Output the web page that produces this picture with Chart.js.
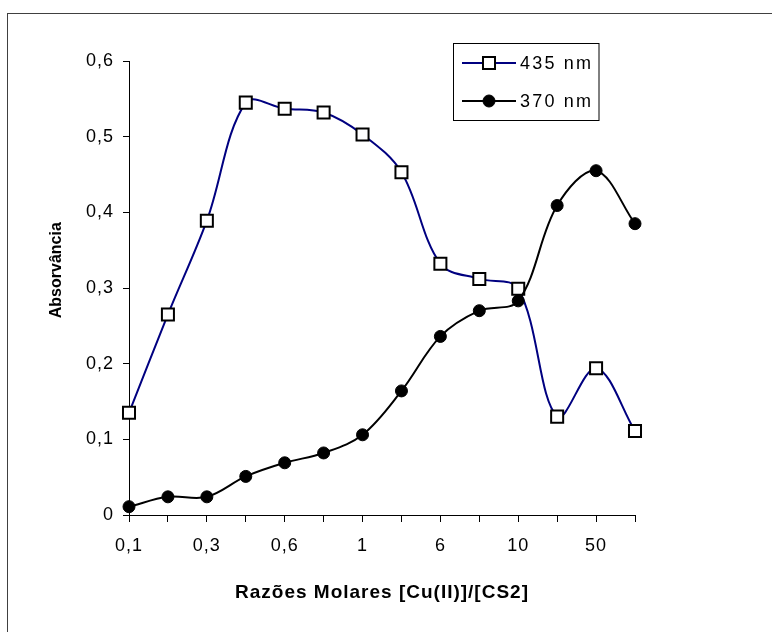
<!DOCTYPE html>
<html>
<head>
<meta charset="utf-8">
<script src="https://cdn.jsdelivr.net/npm/chart.js@4.4.1/dist/chart.umd.min.js"></script>
<style>
  body { margin: 0; background: #fff; }
  #wrap { width: 772px; height: 632px; }
</style>
</head>
<body>
<div id="wrap"><canvas id="chartGraph" width="772" height="632"></canvas></div>
<script>
// razões molares (só metade dos rótulos aparece no eixo)
const ratioLabels = ['0,1', '0,2', '0,3', '0,4', '0,6', '0,8', '1', '3', '6', '8', '10', '30', '50', '100'];
const abs435 = [0.135, 0.265, 0.389, 0.545, 0.537, 0.532, 0.503, 0.453, 0.332, 0.312, 0.299, 0.130, 0.194, 0.111];
const abs370 = [0.011, 0.024, 0.024, 0.051, 0.069, 0.082, 0.106, 0.164, 0.236, 0.270, 0.283, 0.409, 0.455, 0.385];
const seriesNames = ['435 nm', '370 nm'];
const yTicks = [0, 0.1, 0.2, 0.3, 0.4, 0.5, 0.6];

const ctx = document.getElementById('chartGraph');
const FONT = "'Liberation Sans', Arial, sans-serif";

// texto um pouco mais largo, como no original
const spacingPlugin = {
  id: 'spacing',
  beforeDraw(chart) {
    chart.ctx.letterSpacing = '1px';
  }
};

// moldura e legenda com caixa
const frameLegend = {
  id: 'frameLegend',
  afterDraw(chart) {
    const c = chart.ctx;
    c.save();
    c.letterSpacing = '0px';
    c.strokeStyle = '#404040';
    c.lineWidth = 1;
    c.strokeRect(7.5, 13.5, 900, 800);

    c.strokeStyle = '#000';
    c.strokeRect(453.5, 43.5, 145.5, 77);

    const rows = [63, 101];
    chart.data.datasets.forEach((ds, i) => {
      const y = rows[i];
      c.strokeStyle = ds.borderColor;
      c.lineWidth = ds.borderWidth;
      c.beginPath();
      c.moveTo(462, y);
      c.lineTo(516, y);
      c.stroke();
      c.fillStyle = ds.pointBackgroundColor;
      c.strokeStyle = ds.pointBorderColor;
      c.lineWidth = ds.pointBorderWidth;
      Chart.helpers.drawPoint(c, {
        pointStyle: ds.pointStyle,
        radius: ds.pointRadius,
        rotation: 0,
        borderWidth: ds.pointBorderWidth
      }, 489, y);
      c.letterSpacing = '2.2px';
      c.fillStyle = '#000';
      c.font = '18px ' + FONT;
      c.textAlign = 'left';
      c.textBaseline = 'middle';
      c.fillText(ds.label, 520, y + 1);
      c.letterSpacing = '0px';
    });
    c.restore();
  }
};

new Chart(ctx, {
  type: 'line',
  data: {
    labels: ratioLabels,
    datasets: [{
      label: seriesNames[0],
      data: abs435,
      borderColor: '#000080',
      borderWidth: 2,
      tension: 0.35,
      pointStyle: 'rect',
      pointRadius: 8.5,
      pointBackgroundColor: '#fff',
      pointBorderColor: '#000',
      pointBorderWidth: 2,
      clip: false,
      order: 1
    }, {
      label: seriesNames[1],
      data: abs370,
      borderColor: '#000',
      borderWidth: 2,
      tension: 0.35,
      pointStyle: 'circle',
      pointRadius: 6,
      pointBackgroundColor: '#000',
      pointBorderColor: '#000',
      pointBorderWidth: 1,
      clip: false,
      order: 0
    }]
  },
  options: {
    responsive: false,
    animation: false,
    layout: { padding: { top: 61, right: 137, left: 0, bottom: 0 } },
    plugins: {
      legend: { display: false },
      tooltip: { enabled: false }
    },
    scales: {
      x: {
        type: 'category',
        offset: false,
        afterFit(scale) { scale.height = 117; },
        grid: { display: true, drawOnChartArea: false, drawTicks: true, tickLength: 7, color: '#000' },
        border: { display: true, color: '#000', width: 1 },
        ticks: {
          autoSkip: false,
          maxRotation: 0,
          padding: 13,
          color: '#000',
          font: { family: FONT, size: 18 },
          callback: function (value, index) {
            return index % 2 ? '' : this.getLabelForValue(value);
          }
        },
        title: {
          display: true,
          text: 'Razões Molares [Cu(II)]/[CS2]',
          color: '#000',
          font: { family: FONT, size: 19, weight: 'bold' },
          padding: { top: 0, bottom: 28 }
        }
      },
      y: {
        min: yTicks[0],
        max: yTicks[yTicks.length - 1],
        afterFit(scale) {
          scale.width = 129;
          if (!scale._noSpacingTitle) {
            const orig = scale.drawTitle;
            scale.drawTitle = function () {
              const ls = this.ctx.letterSpacing;
              this.ctx.letterSpacing = '0px';
              orig.call(this);
              this.ctx.letterSpacing = ls;
            };
            scale._noSpacingTitle = true;
          }
        },
        afterBuildTicks(scale) {
          scale.ticks = yTicks.map(v => ({ value: v }));
        },
        grid: { display: true, drawOnChartArea: false, drawTicks: true, tickLength: 6, color: '#000' },
        border: { display: true, color: '#000', width: 1 },
        ticks: {
          padding: 9,
          color: '#000',
          font: { family: FONT, size: 18 },
          callback: (v) => v === 0 ? '0' : v.toFixed(1).replace('.', ',')
        },
        title: {
          display: true,
          text: '        Absorvância',
          color: '#000',
          font: { family: FONT, size: 16, weight: 'bold' },
          padding: { top: 47, bottom: 0 }
        }
      }
    }
  },
  plugins: [spacingPlugin, frameLegend]
});
</script>
</body>
</html>
